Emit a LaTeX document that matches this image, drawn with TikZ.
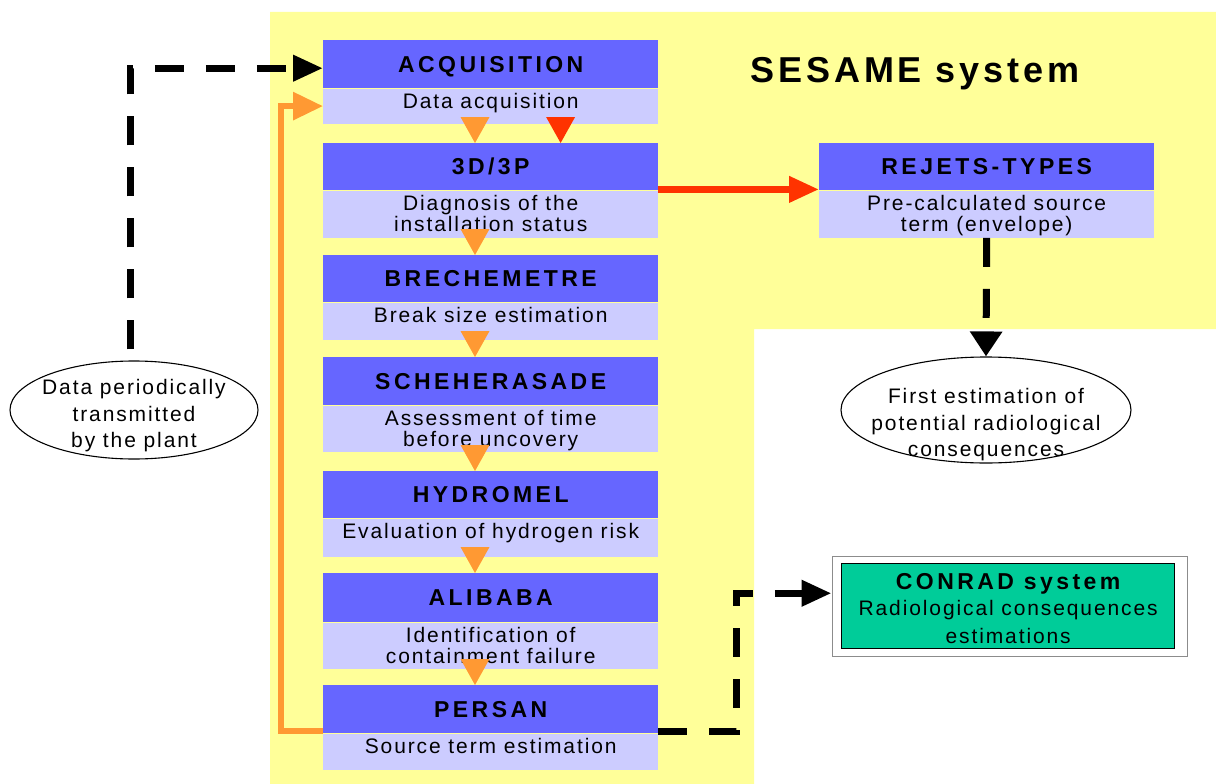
\documentclass[tikz,border=0pt]{standalone}
\usepackage{fontspec}
\setmainfont{Liberation Sans}
\newfontfamily\bodyf[LetterSpace=9]{Liberation Sans}
\newfontfamily\headf[LetterSpace=15]{Liberation Sans}
\newfontfamily\bigf[LetterSpace=11]{Liberation Sans}
\usetikzlibrary{arrows.meta,calc,shapes.geometric}
\definecolor{dkblue}{HTML}{6666FF}
\definecolor{ltblue}{HTML}{CCCCFF}
\definecolor{bgyellow}{HTML}{FFFF99}
\definecolor{arrorange}{HTML}{FF9933}
\definecolor{arrred}{HTML}{FF3300}
\definecolor{conradgreen}{HTML}{00CC99}
\tikzset{
  headbox/.style={fill=dkblue, minimum width=335pt, minimum height=#1, inner sep=0pt, anchor=north west,
    text height=16.5pt, text depth=0pt,
    font=\headf\bfseries\fontsize{23}{23}\selectfont, text=black},
  bodybox/.style={fill=ltblue, minimum width=335pt, minimum height=#1, inner sep=0pt, anchor=north west,
    text height=15pt, text depth={#1-24.5pt},
    align=center, font=\bodyf\fontsize{21}{21}\selectfont, text=black},
  bodyboxtwo/.style={fill=ltblue, minimum width=335pt, minimum height=#1, inner sep=0pt, anchor=north west,
    text height=36pt, text depth={#1-45.5pt},
    align=center, font=\bodyf\fontsize{21}{21}\selectfont, text=black},
  bodytext/.style={align=center, inner sep=0pt, font=\bodyf\fontsize{21}{26.5}\selectfont},
  oval/.style={ellipse, draw=black, line width=1.1pt, inner sep=0pt},
  blackdash/.style={draw=black, line width=7pt, dash pattern=on 29pt off 22pt},
  orline/.style={draw=arrorange, line width=6pt, line join=miter},
  redline/.style={draw=arrred, line width=7pt},
  bigtip/.style={-{Triangle[length=30pt,width=25pt]}},
  orangetri/.style={fill=arrorange},
}
\begin{document}
\begin{tikzpicture}[x=1pt,y=-1pt]
\useasboundingbox (0,0) rectangle (1216,784);
\fill[bgyellow] (270,12) -- (1216,12) -- (1216,329) -- (754,329) -- (754,784) -- (270,784) -- cycle;

% title
\node[font=\bigf\bfseries\fontsize{36}{36}\selectfont, inner sep=0pt, text height=26pt, text depth=0pt] (title) at (915,69) {SESAME system};

% left column
\node[headbox=48pt] (acqT) at (323,40) {ACQUISITION};
\node[bodybox=35pt] (acqB) at (acqT.south west) {Data acquisition};
\node[headbox=47pt] (d3T) at (323,143) {3D/3P};
\node[bodyboxtwo=47pt] (d3B) at (d3T.south west) {Diagnosis of the\\installation status};
\node[headbox=47pt] (brT) at (323,255) {BRECHEMETRE};
\node[bodybox=37pt] (brB) at (brT.south west) {Break size estimation};
\node[headbox=48pt] (scT) at (323,357) {SCHEHERASADE};
\node[bodyboxtwo=46pt] (scB) at (scT.south west) {Assessment of time\\before uncovery};
\node[headbox=47pt] (hyT) at (323,471) {HYDROMEL};
\node[bodybox=38pt] (hyB) at (hyT.south west) {Evaluation of hydrogen risk};
\node[headbox=49pt] (alT) at (323,573) {ALIBABA};
\node[bodyboxtwo=46pt] (alB) at (alT.south west) {Identification of\\containment failure};
\node[headbox=48pt] (peT) at (323,685) {PERSAN};
\node[bodybox=36pt] (peB) at (peT.south west) {Source term estimation};

% REJETS-TYPES
\node[headbox=47pt] (rejT) at (819,143) {REJETS-TYPES};
\node[bodyboxtwo=47pt] (rejB) at (rejT.south west) {Pre-calculated source\\term (envelope)};

% ellipses
\node[oval, minimum width=248pt, minimum height=98pt] (plant) at (134,410) {};
\node[bodytext] (plantT) at ($(plant.center)+(0,6)$) {Data periodically\\transmitted\\by the plant};
\node[oval, minimum width=290pt, minimum height=106pt] (first) at (986,410) {};
\node[bodytext] (firstT) at ($(first.center)+(0,15)$) {First estimation of\\potential radiological\\consequences};

% CONRAD
\node[draw=black!45, line width=1.5pt, minimum width=355pt, minimum height=100pt, anchor=north west, inner sep=0pt] (conradF) at (831.5,555.5) {};
\node[fill=conradgreen, draw=black, line width=1.3pt, minimum width=333pt, minimum height=85pt, anchor=north west, inner sep=0pt] (conrad) at (841,563) {};
\node[align=center, inner sep=0pt, font=\bodyf\fontsize{21}{28}\selectfont] (conradT) at ($(conrad.center)+(0,2.5)$)
  {{\headf\bfseries\fontsize{23}{23}\selectfont CONRAD system}\\[-2pt]Radiological consequences\\estimations};

% triangles between boxes
\foreach \n in {d3T,brT,scT,hyT,alT,peT}{
  \fill[orangetri] ($(\n.north west)+(152,0)$) -- ++(-14.5,-26) -- ++(29,0) -- cycle;
}
\fill[arrred] ($(d3T.north west)+(237.6,0)$) -- ++(-14.5,-26) -- ++(29,0) -- cycle;

% connectors
\coordinate (dstart) at ($(plant.north)+(-4,-11)$);
\draw[blackdash, bigtip] (dstart) |- ($(acqT.west)+(0,4)$);
\draw[orline, -{Triangle[length=30pt,width=27pt]}] ($(peT.south west)+(0,-2)$) -- ++(-42,0) |- (acqB.west);
\draw[redline, bigtip] ($(d3T.south east)+(0,-1)$) -- ($(rejT.south west)+(0,-1)$);
\draw[blackdash, -{Triangle[length=25pt,width=31pt]}] (rejB.south) -- (first.north);
\coordinate (cin) at ($(conradF.west)+(0,-13)$);
\draw[blackdash, bigtip] ($(peT.south east)+(0,-1.5)$) -- ++(78,0) |- (cin);
\end{tikzpicture}
\end{document}
